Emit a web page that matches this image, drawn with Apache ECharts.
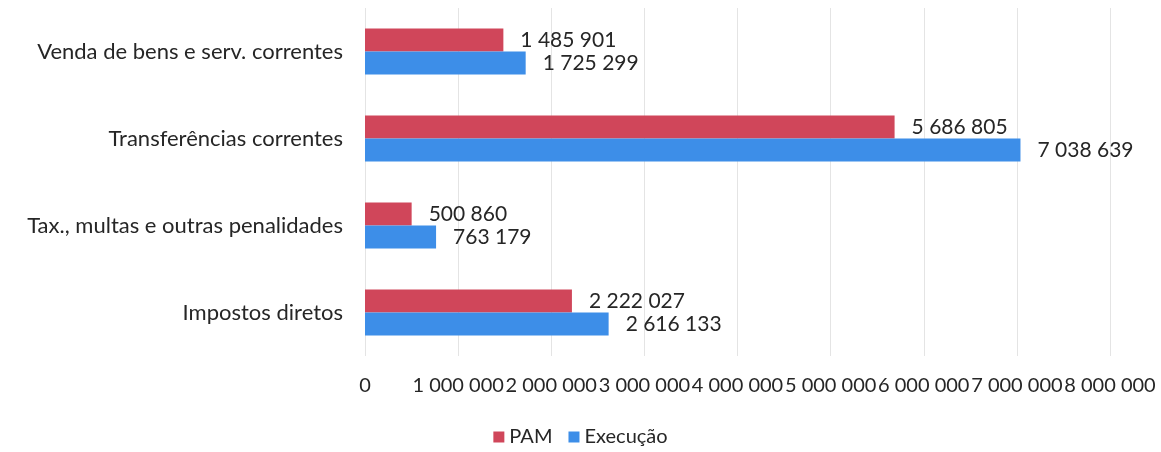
<!DOCTYPE html>
<html>
<head>
<meta charset="utf-8">
<script src="https://cdn.jsdelivr.net/npm/echarts@6/dist/echarts.min.js"></script>
<style>
  html, body { margin: 0; padding: 0; background: #fff; }
  #chart { width: 1161px; height: 452px; }
</style>
</head>
<body>
<div id="chart"></div>
<script>
// Receita corrente: PAM vs Execução, por rubrica
const categories = [
  'Impostos diretos',
  'Tax., multas e outras penalidades',
  'Transferências correntes',
  'Venda de bens e serv. correntes'
];
const pam = [2222027, 500860, 5686805, 1485901];
const execucao = [2616133, 763179, 7038639, 1725299];
const seriesNames = ['PAM', 'Execução'];
const axisMax = 8000000;
const axisStep = 1000000;

const FONT = 'Lato, "Open Sans", sans-serif';
const TEXT = '#262626';

// thousands grouped with a space: 1 485 901
function fmt(v) {
  return String(Math.round(v)).replace(/\B(?=(\d{3})+(?!\d))/g, ' ');
}

const chart = echarts.init(document.getElementById('chart'), null, { renderer: 'canvas' });

const labelStyle = {
  show: true,
  position: 'right',
  distance: 17,
  color: TEXT,
  fontFamily: FONT,
  fontSize: 21,
  formatter: p => fmt(p.value)
};

chart.setOption({
  animation: false,
  backgroundColor: '#ffffff',
  grid: { left: 365, right: 51, top: 8, bottom: 96, containLabel: false },
  legend: {
    data: seriesNames,
    bottom: 0,
    left: 'center',
    itemWidth: 11,
    itemHeight: 11,
    itemGap: 16,
    icon: 'rect',
    textStyle: { color: TEXT, fontFamily: FONT, fontSize: 20 }
  },
  xAxis: {
    type: 'value',
    min: 0,
    max: axisMax,
    interval: axisStep,
    axisLine: { show: false },
    axisTick: { show: false },
    splitLine: { show: true, lineStyle: { color: '#e4e4e4', width: 1 } },
    axisLabel: {
      color: TEXT,
      fontFamily: FONT,
      fontSize: 20,
      margin: 20,
      hideOverlap: false,
      showMinLabel: true,
      showMaxLabel: true,
      formatter: v => fmt(v)
    }
  },
  yAxis: {
    type: 'category',
    data: categories,
    axisLine: { show: false },
    axisTick: { show: false },
    axisLabel: { color: TEXT, fontFamily: FONT, fontSize: 22, margin: 22 }
  },
  series: [
    {
      name: seriesNames[0],
      type: 'bar',
      data: pam,
      barWidth: 23,
      barGap: '0%',
      itemStyle: { color: '#d0465a' },
      label: labelStyle
    },
    {
      name: seriesNames[1],
      type: 'bar',
      data: execucao,
      barWidth: 23,
      barGap: '0%',
      itemStyle: { color: '#3d8ee8' },
      label: labelStyle
    }
  ]
});
</script>
</body>
</html>
